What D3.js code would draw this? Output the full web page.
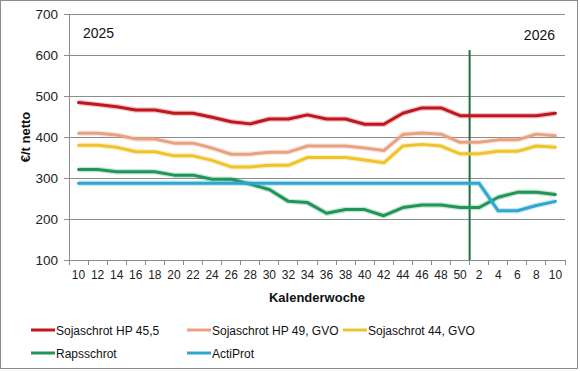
<!doctype html>
<html>
<head>
<meta charset="utf-8">
<title>Preise Eiweissfutter</title>
<script src="https://d3js.org/d3.v7.min.js"></script>
<style>
  body { margin: 0; background: #fff; }
  svg { display: block; font-family: "Liberation Sans", Arial, sans-serif; }
  .tick text { font-size: 12px; fill: #222; }
</style>
</head>
<body>
<script>
// Kalenderwochen (2025 KW10 .. 2026 KW10, 2-woechig)
var weeks = ["10","12","14","16","18","20","22","24","26","28","30","32","34","36","38","40","42","44","46","48","50","2","4","6","8","10"];

var hp455 = [484,479,474,466,466,458,458,448,437,432,444,444,454,444,444,431,431,458,471,471,452,452,452,452,452,458];
var hp49  = [409,409,405,395,395,385,385,373,358,358,363,363,378,378,378,373,367,406,410,407,387,387,393,393,407,403];
var soja44 = [380,380,375,364,364,354,354,343,327,327,331,331,350,350,350,344,337,378,382,378,359,359,365,365,378,375];
var raps  = [321,321,315,315,315,307,307,297,297,285,272,243,240,214,223,223,208,228,234,234,228,228,253,265,265,260];
var acti  = [287,287,287,287,287,287,287,287,287,287,287,287,287,287,287,287,287,287,287,287,287,287,220,220,233,243];

var yTicks = [100,200,300,400,500,600,700];

var series = [
  {name: "Sojaschrot HP 45,5", values: hp455, color: "#c0161d"},
  {name: "Sojaschrot HP 49, GVO", values: hp49, color: "#e8a282"},
  {name: "Sojaschrot 44, GVO", values: soja44, color: "#eec42a"},
  {name: "Rapsschrot", values: raps, color: "#1f9657"},
  {name: "ActiProt", values: acti, color: "#2ea6cf"}
];

var W = 580, H = 371;
var margin = {top: 14, right: 15, bottom: 111, left: 69};
var width = W - margin.left - margin.right,
    height = H - margin.top - margin.bottom;

var svg = d3.select("body").append("svg").attr("width", W).attr("height", H);

svg.append("rect").attr("x", 0.5).attr("y", 0.5).attr("width", W - 3).attr("height", H - 3)
  .attr("fill", "#fff").attr("stroke", "#8c8c8c");

var g = svg.append("g").attr("transform", "translate(" + margin.left + "," + margin.top + ")");

var idx = d3.range(weeks.length);
var x = d3.scaleBand().domain(idx).range([0, width]);
var y = d3.scaleLinear().domain([100, 700]).range([height, 0]);

// gridlines
g.selectAll(".grid").data(yTicks.slice(1)).enter().append("line")
  .attr("x1", 0).attr("x2", width)
  .attr("y1", function(d){ return y(d); }).attr("y2", function(d){ return y(d); })
  .attr("stroke", "#8c8c8c").attr("stroke-width", 1).attr("shape-rendering", "crispEdges");

// y axis
var yAxis = g.append("g").call(d3.axisLeft(y).tickValues(yTicks).tickSize(5).tickPadding(6));
yAxis.selectAll("line, path").attr("stroke", "#8c8c8c");
yAxis.selectAll("text").style("font-size", "13.5px");

// x axis with ticks between categories
var xAxis = g.append("g").attr("transform", "translate(0," + height + ")")
  .call(d3.axisBottom(x).tickFormat(function(i){ return weeks[i]; }).tickSize(0).tickPadding(10));
xAxis.select("path").attr("stroke", "#8c8c8c");
xAxis.selectAll("text").style("font-size", "12px");
g.append("g").selectAll("line").data(d3.range(weeks.length + 1)).enter().append("line")
  .attr("x1", function(i){ return i * x.step(); }).attr("x2", function(i){ return i * x.step(); })
  .attr("y1", height).attr("y2", height + 5)
  .attr("stroke", "#8c8c8c").attr("shape-rendering", "crispEdges");

// year divider
var divX = 21 * x.step();
g.append("line").attr("x1", divX).attr("x2", divX).attr("y1", y(612)).attr("y2", height)
  .attr("stroke", "#1e6e3e").attr("stroke-width", 2);

g.append("text").attr("x", 14).attr("y", 24).text("2025").style("font-size", "14px").attr("fill", "#111");
g.append("text").attr("x", width - 10).attr("y", 26).attr("text-anchor", "end").text("2026").style("font-size", "14px").attr("fill", "#111");

var line = d3.line()
  .x(function(d, i){ return x(i) + x.bandwidth() / 2; })
  .y(function(d){ return y(d); });

series.forEach(function(s){
  g.append("path").datum(s.values)
    .attr("fill", "none").attr("stroke", s.color).attr("stroke-opacity", 0.25)
    .attr("stroke-width", 5.5).attr("stroke-linejoin", "round").attr("d", line);
  g.append("path").datum(s.values)
    .attr("fill", "none").attr("stroke", s.color).attr("stroke-width", 3)
    .attr("stroke-linejoin", "round").attr("stroke-linecap", "round").attr("d", line);
});

// axis titles
svg.append("text").attr("x", margin.left + width / 2).attr("y", 302).attr("text-anchor", "middle")
  .style("font-size", "13px").style("font-weight", "bold").attr("fill", "#111").text("Kalenderwoche");
svg.append("text").attr("transform", "translate(30,137) rotate(-90)").attr("text-anchor", "middle")
  .style("font-size", "13px").style("font-weight", "bold").attr("fill", "#111").text("€/t netto");

// legend
var legPos = [[31,330],[187,330],[343,330],[31,353],[187,353]];
series.forEach(function(s, i){
  var lg = svg.append("g").attr("transform", "translate(" + legPos[i][0] + "," + legPos[i][1] + ")");
  lg.append("line").attr("x1", 0).attr("x2", 24).attr("y1", 0).attr("y2", 0)
    .attr("stroke", s.color).attr("stroke-width", 3);
  lg.append("text").attr("x", 25).attr("y", 4.5).style("font-size", "12px").attr("fill", "#111").text(s.name);
});
</script>
</body>
</html>
